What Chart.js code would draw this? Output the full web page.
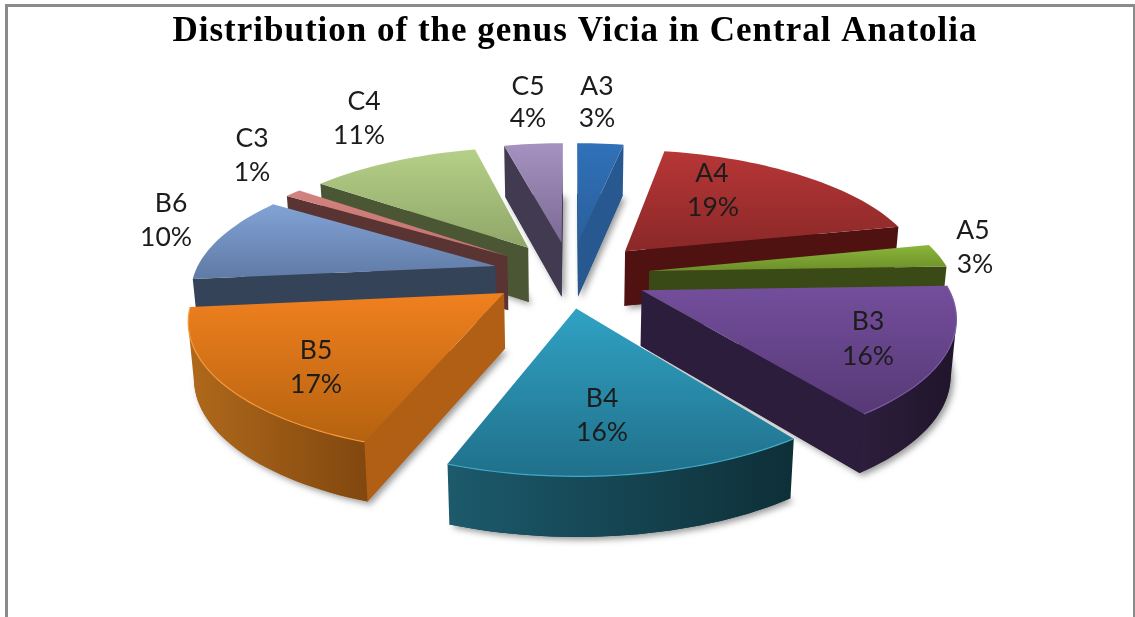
<!DOCTYPE html>
<html>
<head>
<meta charset="utf-8">
<script src="https://cdn.jsdelivr.net/npm/chart.js@4"></script>
<style>
html,body{margin:0;padding:0;background:#fff}
#wrap{position:absolute;left:0;top:0;width:1135px;height:617px}
</style>
</head>
<body>
<div id="wrap"><canvas id="c" width="1135" height="617"></canvas></div>
<script>
const categories = ['A3','A4','A5','B3','B4','B5','B6','C3','C4','C5'];
const percents = [3,19,3,16,16,17,10,1,11,4];
const titleText = 'Distribution of the genus Vicia in Central Anatolia';

const topLight = ['#3071b8','#b83636','#8bb63a','#744e9c','#30a2c4','#f0801f','#82a3d6','#d48280','#b5d088','#a692c0'];
const topDark  = ['#2a5f9c','#8a2828','#6c8f2a','#563976','#20708a','#b5620f','#5f7aa5','#c27270','#8fa668','#7c6a96'];
const wallFlat = ['#27588f','#4f1211','#3a4a17','#2d1d3c','#0f3540','#b05f14','#344358','#5a3333','#4b5734','#423a50'];
const arcLeft  = ['#27588f','#4f1211','#3a4a17','#2d1e3c','#1c5a6c','#b0691b','#344358','#5a3333','#4b5734','#423a50'];
const arcRight = ['#27588f','#4f1211','#3a4a17','#1f152a','#0e2f38','#82480f','#344358','#5a3333','#4b5734','#423a50'];
const edgeGlow = [null,null,null,'#7d5aa5','#3fa9c8','#f59a3c',null,null,null,null];

const labelAnchors = {
  A3:[597,86,597,118], A4:[712,173,713,207], A5:[973,230,975,264], B3:[868,321,868,356],
  B4:[602,398,602,432], B5:[316,350,316,384], B6:[171,203,166,237], C3:[252,138,252,172],
  C4:[364,101,359,135], C5:[528,86,528,118]
};

/* perspective view of the flat pie */
const VIEW = {x0:571, y0:274, A:301, B:126, k:0.17, depth:55, taper:0.985, explode:0.262};
function project(u,v,bottom){
  const w = 1/(1-VIEW.k*v);
  let x = VIEW.x0 + VIEW.A*u*w;
  let y = VIEW.y0 + VIEW.B*v*w;
  if(bottom){ x = VIEW.x0 + (x-VIEW.x0)*VIEW.taper; y += VIEW.depth*Math.pow(w,0.4); }
  return [x,y];
}
function warp(t){
  const extra = t>Math.PI ? 0.03*Math.sin(2*(t-Math.PI)) : 0;
  return t - 0.035*(1-Math.cos(t)) - extra;
}
function area(q){
  let s=0;
  for(let i=0;i<q.length;i++){ const a=q[i],b=q[(i+1)%q.length]; s+=a[0]*b[1]-b[0]*a[1]; }
  return s/2;
}
function fillPoly(ctx,q){
  ctx.beginPath();
  q.forEach((p,j)=>j?ctx.lineTo(p[0],p[1]):ctx.moveTo(p[0],p[1]));
  ctx.closePath(); ctx.fill();
}

const pie3d = {
  id:'pie3d',
  beforeDraw(chart){ chart.ctx.letterSpacing='1px'; },
  beforeDatasetDraw(chart){
    const ctx = chart.ctx;
    ctx.letterSpacing='0px';
    const arcs = chart.getDatasetMeta(0).data;
    const slices = arcs.map((el,i)=>{
      const p = el.getProps(['startAngle','endAngle'],true);
      const a0 = p.startAngle+Math.PI/2, a1 = p.endAngle+Math.PI/2;
      const mid = (a0+a1)/2;
      const ou = VIEW.explode*Math.sin(mid), ov = -VIEW.explode*Math.cos(mid);
      const n = Math.max(2,Math.ceil((a1-a0)/0.03));
      const world = [[ou,ov]];
      for(let j=0;j<=n;j++){
        const t = warp(a0+(a1-a0)*j/n);
        world.push([ou+Math.sin(t), ov-Math.cos(t)]);
      }
      return {i,ov,world};
    }).sort((a,b)=>a.ov-b.ov);

    ctx.save();
    slices.forEach(s=>{
      const i = s.i;
      const top = s.world.map(p=>project(p[0],p[1],false));
      const bot = s.world.map(p=>project(p[0],p[1],true));
      const N = top.length;
      const quad = e=>{const f=(e+1)%N; return [top[e],top[f],bot[f],bot[e]];};

      /* soft shadow beneath the slice */
      ctx.save();
      ctx.shadowColor='rgba(0,0,0,0.4)'; ctx.shadowBlur=6; ctx.shadowOffsetX=3; ctx.shadowOffsetY=3;
      ctx.fillStyle=wallFlat[i];
      fillPoly(ctx,bot);
      ctx.restore();

      const xs = top.slice(1).map(p=>p[0]), ys = top.map(p=>p[1]);
      const minX=Math.min(...xs), maxX=Math.max(...xs), minY=Math.min(...ys), maxY=Math.max(...ys);

      /* radial walls */
      ctx.fillStyle=wallFlat[i];
      [0,N-1].forEach(e=>{ const q=quad(e); if(area(q)<0) fillPoly(ctx,q); });

      /* outer wall: one polygon per run of front-facing segments */
      const ag = ctx.createLinearGradient(minX,0,maxX,0);
      ag.addColorStop(0,arcLeft[i]); ag.addColorStop(1,arcRight[i]);
      ctx.fillStyle=ag;
      let run=null;
      const flush=()=>{
        if(run){
          const poly=[];
          for(let j=run[0];j<=run[1];j++) poly.push(top[j]);
          for(let j=run[1];j>=run[0];j--) poly.push(bot[j]);
          fillPoly(ctx,poly); run=null;
        }
      };
      for(let e=1;e<N-1;e++){
        if(area(quad(e))<0){ if(run) run[1]=e+1; else run=[e,e+1]; } else flush();
      }
      flush();

      /* top face */
      const g = ctx.createLinearGradient(0,minY,0,maxY);
      g.addColorStop(0,topLight[i]); g.addColorStop(1,topDark[i]);
      ctx.fillStyle=g;
      fillPoly(ctx,top);
      if(edgeGlow[i]){
        ctx.strokeStyle=edgeGlow[i]; ctx.lineWidth=1.2;
        ctx.beginPath();
        for(let j=1;j<N;j++){ j===1?ctx.moveTo(top[j][0],top[j][1]):ctx.lineTo(top[j][0],top[j][1]); }
        ctx.stroke();
      }
    });
    ctx.restore();
    return false;
  },
  afterDraw(chart){
    const ctx = chart.ctx;
    ctx.save();
    ctx.fillStyle='#8b8b8b';
    ctx.fillRect(5,4,3,613);
    ctx.fillRect(5,4,1130,3);
    ctx.fillRect(1133,4,2,613);
    ctx.fillStyle='#1c1c1c';
    ctx.font='26.5px Lato';
    ctx.textAlign='center'; ctx.textBaseline='middle';
    categories.forEach((c,i)=>{
      const a = labelAnchors[c];
      ctx.fillText(c,a[0],a[1]);
      ctx.fillText(percents[i]+'%',a[2],a[3]);
    });
    ctx.restore();
  }
};

new Chart(document.getElementById('c'),{
  type:'pie',
  data:{labels:categories,datasets:[{data:percents,backgroundColor:topLight,borderWidth:0,offset:40}]},
  options:{
    responsive:false,
    animation:false,
    rotation:0,
    layout:{padding:{left:15,right:0,top:0,bottom:0}},
    plugins:{
      legend:{display:false},
      tooltip:{enabled:false},
      title:{display:true,text:titleText,color:'#000',
        font:{family:'"Liberation Serif"',size:35,weight:'bold'},
        padding:{top:11,bottom:10}}
    }
  },
  plugins:[pie3d]
});
</script>
</body>
</html>
